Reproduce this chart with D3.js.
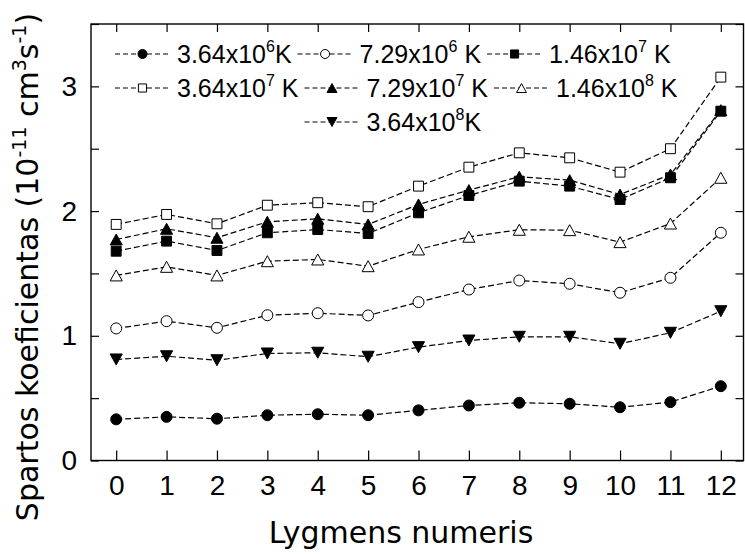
<!DOCTYPE html>
<html>
<head>
<meta charset="utf-8">
<script src="https://cdn.jsdelivr.net/npm/d3@7"></script>
<style>
  html, body { margin: 0; padding: 0; background: #fff; }
  svg text { white-space: pre; }
</style>
</head>
<body>
<svg id="chart" width="745" height="554"></svg>
<script>
// Level index on the x axis
const levels = [0, 1, 2, 3, 4, 5, 6, 7, 8, 9, 10, 11, 12];

// Rate coefficients (10^-11 cm^3 s^-1), one array per temperature
const t364e6 = [0.330, 0.350, 0.335, 0.363, 0.371, 0.363, 0.402, 0.441, 0.463, 0.455, 0.427, 0.468, 0.596];
const t729e6 = [1.059, 1.117, 1.064, 1.165, 1.181, 1.163, 1.270, 1.371, 1.443, 1.417, 1.345, 1.465, 1.826];
const t146e7 = [1.678, 1.759, 1.684, 1.826, 1.852, 1.820, 1.986, 2.125, 2.240, 2.200, 2.093, 2.267, 2.801];
const t364e7 = [1.893, 1.973, 1.898, 2.047, 2.067, 2.035, 2.200, 2.352, 2.467, 2.427, 2.312, 2.500, 3.074];
const t729e7 = [1.772, 1.858, 1.786, 1.914, 1.938, 1.893, 2.053, 2.168, 2.275, 2.248, 2.133, 2.293, 2.809];
const t146e8 = [1.484, 1.553, 1.484, 1.598, 1.612, 1.558, 1.692, 1.794, 1.850, 1.847, 1.751, 1.900, 2.267];
const t364e8 = [0.810, 0.836, 0.804, 0.858, 0.864, 0.832, 0.909, 0.962, 0.992, 0.992, 0.936, 1.024, 1.197];

// Legend label pieces: mantissa, exponent, unit
const labelBase = ["3.64x10", "7.29x10", "1.46x10", "3.64x10", "7.29x10", "1.46x10", "3.64x10"];
const labelExp  = ["6", "6", "7", "7", "7", "8", "8"];
const labelUnit = ["K", " K", " K", " K", " K", " K", "K"];

// Tick labels
const xTickLabels = ["0", "1", "2", "3", "4", "5", "6", "7", "8", "9", "10", "11", "12"];
const yTickValues = [0, 1, 2, 3];

const seriesValues = [t364e6, t729e6, t146e7, t364e7, t729e7, t146e8, t364e8];
const seriesSymbol = ["circle", "circle", "square", "square", "triUp", "triUp", "triDown"];
const seriesFilled = [true, false, true, false, true, false, true];

const svg = d3.select("#chart");
const L = 91, R = 743.5, T = 24, B = 460.5;

const x = d3.scaleLinear().domain([-0.5, 12.45]).range([L, R]);
const y = d3.scaleLinear().domain([0, 3.5]).range([B, T]);

const tickFont = "'Liberation Sans', Arial, sans-serif";
const titleFont = "'DejaVu Sans', Verdana, sans-serif";

// Marker path generator, centred on its bounding box
function symbolPath(kind, s) {
  const h = s / 2;
  if (kind === "circle") {
    const p = d3.path();
    p.arc(0, 0, h, 0, 2 * Math.PI);
    p.closePath();
    return p.toString();
  }
  if (kind === "square") {
    const q = h * 0.9;
    return `M${-q},${-q}H${q}V${q}H${-q}Z`;
  }
  if (kind === "triUp") {
    return `M0,${-h}L${h * 1.1},${h}L${-h * 1.1},${h}Z`;
  }
  return `M0,${h}L${h * 1.1},${-h}L${-h * 1.1},${-h}Z`;
}

// Series lines
const line = d3.line().x((d, i) => x(levels[i])).y(d => y(d));
const plot = svg.append("g");
seriesValues.forEach(vals => {
  plot.append("path")
    .attr("d", line(vals))
    .attr("fill", "none")
    .attr("stroke", "#000")
    .attr("stroke-width", 1.2)
    .attr("stroke-dasharray", "6,3");
});
// Series markers
seriesValues.forEach((vals, k) => {
  plot.selectAll(null).data(vals).enter().append("path")
    .attr("transform", (d, i) => `translate(${x(levels[i])},${y(d)})`)
    .attr("d", symbolPath(seriesSymbol[k], 11))
    .attr("fill", seriesFilled[k] ? "#000" : "#fff")
    .attr("stroke", "#000")
    .attr("stroke-width", 1);
});

// Frame and ticks
const axisG = svg.append("g");
const bottomAxis = d3.axisBottom(x).tickValues(levels).tickSize(-10).tickPadding(15)
  .tickFormat((d, i) => xTickLabels[i]);
const topAxis = d3.axisTop(x).tickValues(levels).tickSize(-8).tickFormat("");
const leftAxis = d3.axisLeft(y).tickValues(d3.range(0, 3.51, 0.5)).tickSize(-8).tickPadding(14)
  .tickFormat(d => yTickValues.includes(d) ? String(d) : "");
const rightAxis = d3.axisRight(y).tickValues(d3.range(0, 3.51, 0.5)).tickSize(-8).tickFormat("");

function styleAxis(g) {
  g.selectAll(".domain").remove();
  g.selectAll(".tick line").attr("stroke", "#000").attr("stroke-width", 1.2);
  g.selectAll(".tick text").attr("font-family", tickFont).attr("font-size", 28).attr("fill", "#000");
}
axisG.append("g").attr("transform", `translate(0,${B})`).call(bottomAxis).call(styleAxis);
axisG.append("g").attr("transform", `translate(0,${T})`).call(topAxis).call(styleAxis);
axisG.append("g").attr("transform", `translate(${L},0)`).call(leftAxis).call(styleAxis);
axisG.append("g").attr("transform", `translate(${R},0)`).call(rightAxis).call(styleAxis);

svg.append("rect")
  .attr("x", L).attr("y", T).attr("width", R - L).attr("height", B - T)
  .attr("fill", "none").attr("stroke", "#000").attr("stroke-width", 1.4);

// Axis titles
svg.append("text")
  .attr("x", 401).attr("y", 543)
  .attr("text-anchor", "middle")
  .attr("font-family", titleFont).attr("font-size", 30)
  .text("Lygmens numeris");

const yTitle = svg.append("text")
  .attr("transform", "translate(38,267) rotate(-90)")
  .attr("text-anchor", "middle")
  .attr("font-family", titleFont).attr("font-size", 30);
yTitle.append("tspan").text("Spartos koeficientas (10");
yTitle.append("tspan").attr("dy", -12).attr("font-size", 19).text("-11");
yTitle.append("tspan").attr("dy", 12).text(" cm");
yTitle.append("tspan").attr("dy", -12).attr("font-size", 19).text("3");
yTitle.append("tspan").attr("dy", 12).text("s");
yTitle.append("tspan").attr("dy", -12).attr("font-size", 19).text("-1");
yTitle.append("tspan").attr("dy", 12).text(")");

// Legend: three rows, entries flow left to right
const legend = svg.append("g").attr("font-family", tickFont).attr("font-size", 25);
const rows = [[0, 1, 2], [3, 4, 5], [6]];
const rowBase = [63, 97, 131];
const lineLen = 55, gapText = 7, gapItem = 6;
const rowStarts = [];

rows.forEach((items, r) => {
  let cx = r === 2 ? rowStarts[1][1] : 115;
  rowStarts.push([]);
  items.forEach(k => {
    rowStarts[r].push(cx);
    const yb = rowBase[r];
    const ym = yb - 9;
    legend.append("line")
      .attr("x1", cx).attr("x2", cx + lineLen).attr("y1", ym).attr("y2", ym)
      .attr("stroke", "#000").attr("stroke-width", 1.2).attr("stroke-dasharray", "5,3");
    legend.append("path")
      .attr("transform", `translate(${cx + lineLen / 2},${ym})`)
      .attr("d", symbolPath(seriesSymbol[k], 9))
      .attr("fill", seriesFilled[k] ? "#000" : "#fff")
      .attr("stroke", "#000").attr("stroke-width", 1);
    const t = legend.append("text").attr("x", cx + lineLen + gapText).attr("y", yb);
    t.append("tspan").text(labelBase[k]);
    t.append("tspan").attr("dy", -11).attr("font-size", 16).text(labelExp[k]);
    t.append("tspan").attr("dy", 11).text(labelUnit[k]);
    cx = cx + lineLen + gapText + t.node().getComputedTextLength() + gapItem;
  });
});
</script>
</body>
</html>
